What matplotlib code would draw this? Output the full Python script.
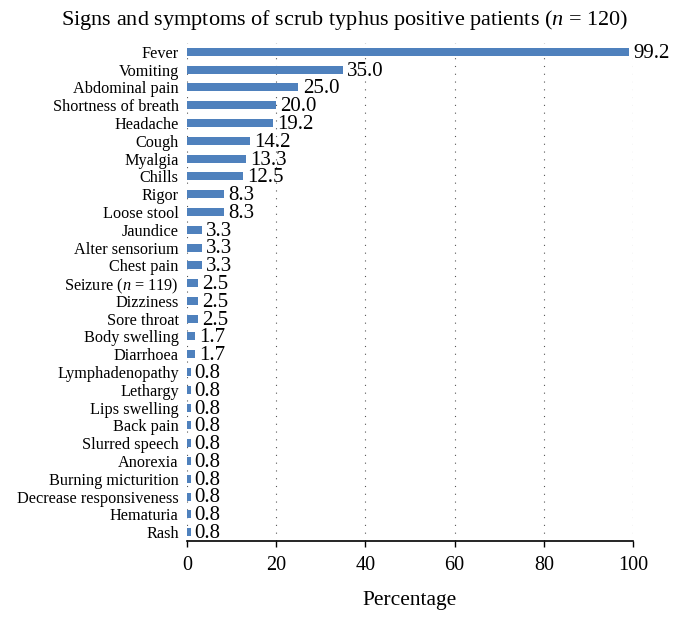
import matplotlib
matplotlib.use("Agg")
import matplotlib.pyplot as plt

plt.rcParams['font.family'] = ['Liberation Serif', 'DejaVu Serif']
plt.rcParams['mathtext.fontset'] = 'custom'
plt.rcParams['mathtext.rm'] = 'Liberation Serif'
plt.rcParams['mathtext.it'] = 'Liberation Serif:italic'

categories = ["Fever", "Vomiting", "Abdominal pain", "Shortness of breath", "Headache",
              "Cough", "Myalgia", "Chills", "Rigor", "Loose stool", "Jaundice",
              "Alter sensorium", "Chest pain", "Seizure ($n$ = 119)", "Dizziness",
              "Sore throat", "Body swelling", "Diarrhoea", "Lymphadenopathy", "Lethargy",
              "Lips swelling", "Back pain", "Slurred speech", "Anorexia",
              "Burning micturition", "Decrease responsiveness", "Hematuria", "Rash"]
values = [99.2, 35.0, 25.0, 20.0, 19.2, 14.2, 13.3, 12.5, 8.3, 8.3, 3.3, 3.3, 3.3,
          2.5, 2.5, 2.5, 1.7, 1.7, 0.8, 0.8, 0.8, 0.8, 0.8, 0.8, 0.8, 0.8, 0.8, 0.8]
xticks = [0, 20, 40, 60, 80, 100]

fig = plt.figure(figsize=(6.86, 6.22), dpi=100)
ax = fig.add_axes([0.2726, 0.1302, 0.6501, 0.8007])

pos = list(range(len(categories)))
ax.barh(pos, values, height=0.45, color='#4F81BD', zorder=3)
ax.set_ylim(len(categories) - 0.5, -0.5)
ax.set_xlim(0, 100)
ax.set_yticks(pos)
ax.set_yticklabels(categories, fontsize=11.7)
ax.tick_params(axis='y', length=0, pad=6)
ax.set_xticks(xticks)
ax.set_xticklabels([str(t) for t in xticks], fontsize=14.5)
ax.tick_params(axis='x', direction='out', length=4, width=1, pad=7)

for x in xticks:
    ax.axvline(x, color='#555555', linestyle=(0, (1, 6)), linewidth=0.8, zorder=1)

for s in ['top', 'right', 'left']:
    ax.spines[s].set_visible(False)
ax.spines['bottom'].set_linewidth(1.2)

for p, v in zip(pos, values):
    ax.annotate(f"{v:.1f}", xy=(v, p + 0.08), xytext=(3, 0), textcoords='offset points',
                va='center', ha='left', fontsize=15, zorder=4)

ax.set_xlabel("Percentage", fontsize=15.5, labelpad=11)
fig.text(0.503, 0.968, "Signs and symptoms of scrub typhus positive patients ($n$ = 120)",
         ha='center', va='center', fontsize=16)

fig.savefig("out.png", dpi=100)
